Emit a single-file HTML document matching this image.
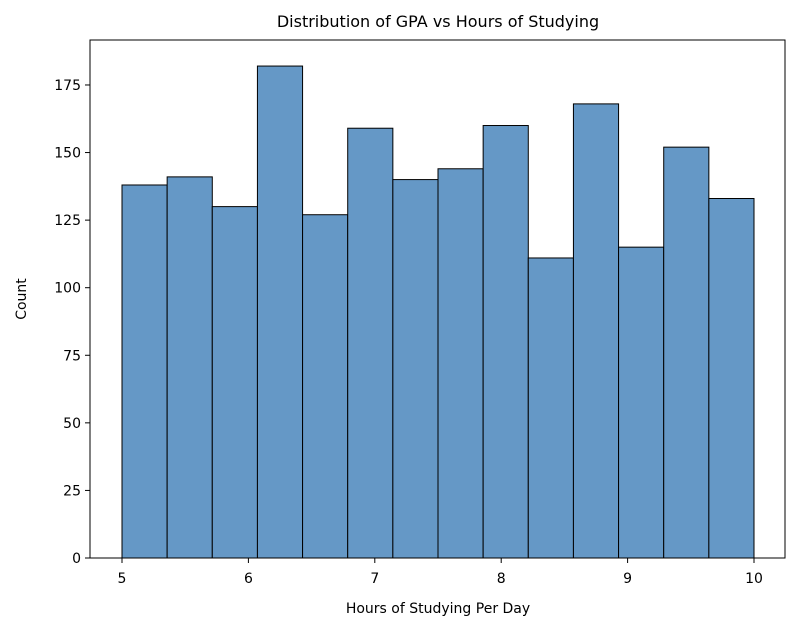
<!DOCTYPE html>
<html><head><meta charset="utf-8"><style>
body{margin:0;background:#fff;}
svg{font-family:"DejaVu Sans","Liberation Sans",sans-serif;}
</style></head><body>
<svg id="chart" width="796" height="630" xmlns="http://www.w3.org/2000/svg">
<rect width="796" height="630" fill="#fff"/>
<text x="438" y="27" font-size="16" text-anchor="middle">Distribution of GPA vs Hours of Studying</text>
<text x="438" y="613" font-size="14" text-anchor="middle">Hours of Studying Per Day</text>
<text x="26" y="299" font-size="14" text-anchor="middle" transform="rotate(-90 26 299)">Count</text>
<g id="bars"></g>
<g id="axes"></g>
<rect x="90" y="40" width="695" height="518" fill="none" stroke="#000" stroke-width="1"/>
</svg>
<script>
const binStart = 5, binEnd = 10;
const counts = [138,141,130,182,127,159,140,144,160,111,168,115,152,133];
const xTicks = [5,6,7,8,9,10];
const yTicks = [0,25,50,75,100,125,150,175];
const NS="http://www.w3.org/2000/svg";
const xs=v=>122+(v-5)*126.4;
const ys=v=>558-v*2.703;
const bars=document.getElementById('bars'), axes=document.getElementById('axes');
const w=(binEnd-binStart)/counts.length;
counts.forEach((c,i)=>{
  const r=document.createElementNS(NS,'rect');
  
  
  const x0=xs(binStart+i*w), x1=xs(binStart+(i+1)*w);
  r.setAttribute('x',x0);r.setAttribute('width',x1-x0);
  r.setAttribute('y',ys(c));r.setAttribute('height',ys(0)-ys(c));
  r.setAttribute('fill','#6598c6');r.setAttribute('stroke','#000');r.setAttribute('stroke-width','1');
  bars.appendChild(r);
});
xTicks.forEach(t=>{
  const l=document.createElementNS(NS,'line');
  
  
  l.setAttribute('x1',xs(t));l.setAttribute('x2',xs(t));l.setAttribute('y1',558);l.setAttribute('y2',563);l.setAttribute('stroke','#000');
  axes.appendChild(l);
  const tx=document.createElementNS(NS,'text');
  
  
  tx.setAttribute('x',xs(t));tx.setAttribute('y',583);tx.setAttribute('font-size','14');tx.setAttribute('text-anchor','middle');
  tx.textContent=t;axes.appendChild(tx);
});
yTicks.forEach(t=>{
  const l=document.createElementNS(NS,'line');
  
  
  l.setAttribute('x1',85);l.setAttribute('x2',90);l.setAttribute('y1',ys(t));l.setAttribute('y2',ys(t));l.setAttribute('stroke','#000');
  axes.appendChild(l);
  const tx=document.createElementNS(NS,'text');
  
  
  tx.setAttribute('x',81);tx.setAttribute('y',ys(t)+5);tx.setAttribute('font-size','14');tx.setAttribute('text-anchor','end');
  tx.textContent=t;axes.appendChild(tx);
});
</script>
</body></html>
